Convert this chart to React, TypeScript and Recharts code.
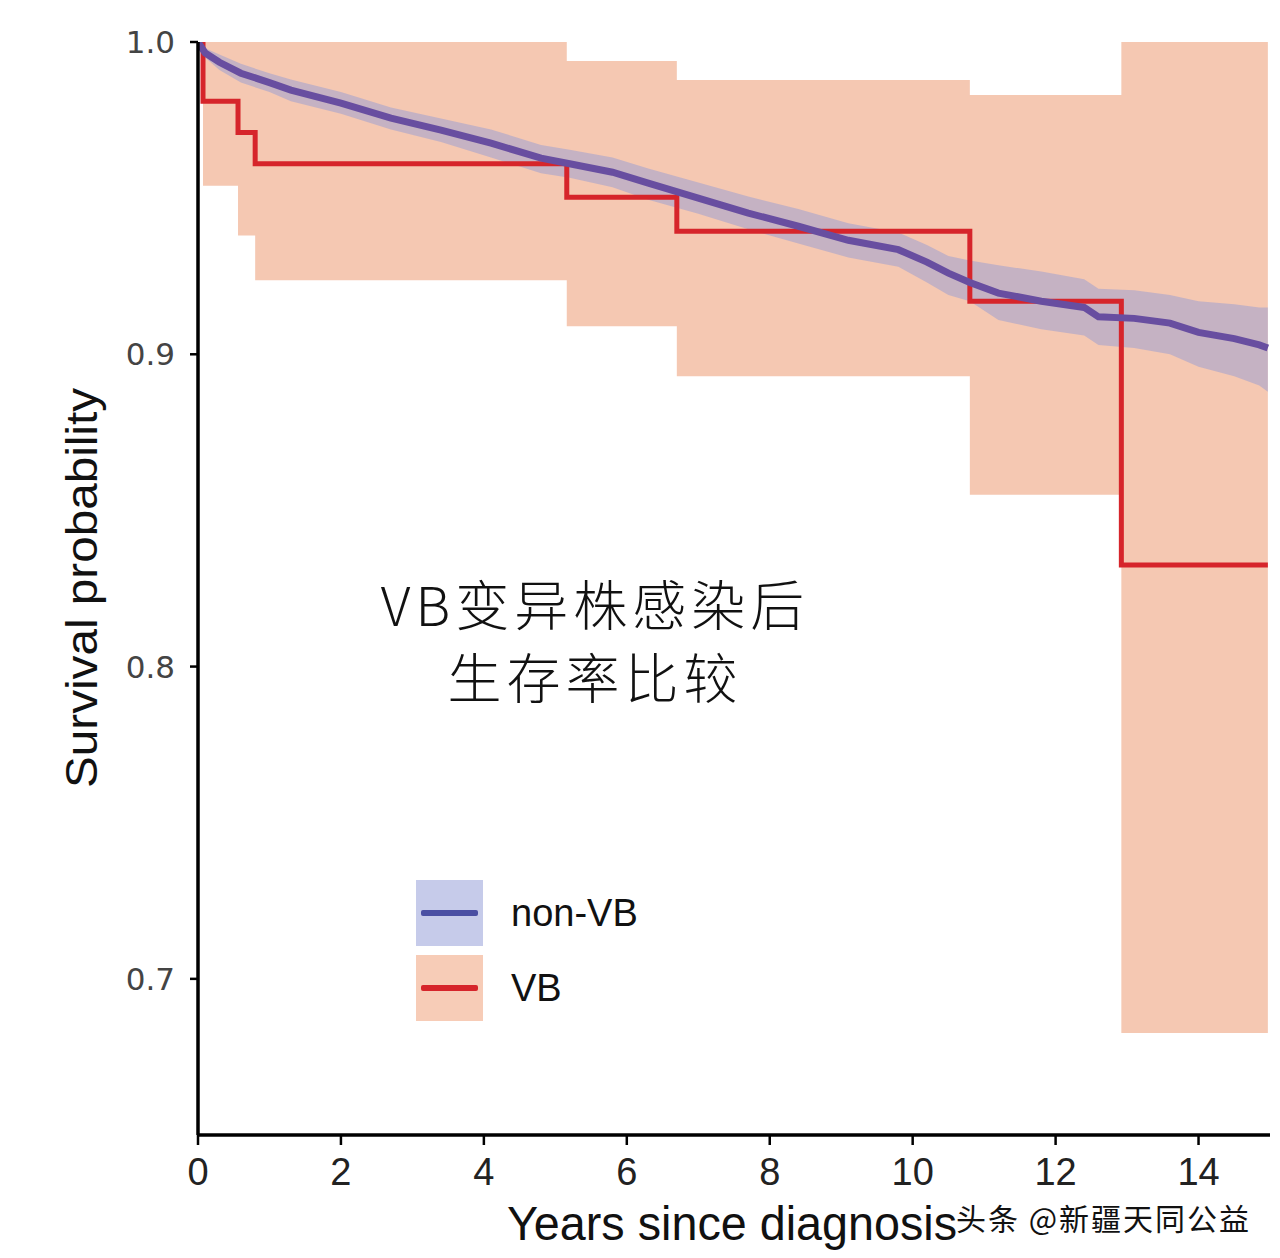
import React from 'react';
import { ComposedChart, Area, Line, XAxis, YAxis, Legend, Label } from 'recharts';

// VB group: Kaplan-Meier step curve and its confidence band
const vbTimes = [0, 0.07, 0.56, 0.8, 5.16, 6.7, 10.8, 12.92, 14.97];
const vbSurvival = [1.0, 0.981, 0.971, 0.961, 0.9503, 0.9394, 0.917, 0.8325, 0.8325];
const vbUpper = [1.0, 1.0, 1.0, 1.0, 0.9939, 0.9878, 0.983, 1.0, 1.0];
const vbLower = [1.0, 0.954, 0.938, 0.9237, 0.909, 0.893, 0.855, 0.6827, 0.6827];

// non-VB group
const nonVbTimes = [
  0, 0.1, 0.3, 0.6, 1.0, 1.3, 2.0, 2.7, 3.4, 4.1, 4.8, 5.2, 5.8, 6.3, 7.0, 7.7,
  8.4, 9.1, 9.8, 10.2, 10.5, 10.8, 11.2, 11.8, 12.4, 12.6, 13.1, 13.6, 14.0, 14.5, 14.85, 14.97,
];
const nonVbSurvival = [
  1.0, 0.9965, 0.9935, 0.99, 0.987, 0.9846, 0.9804, 0.9756, 0.9718, 0.9676, 0.9628, 0.961, 0.9583, 0.9548, 0.95, 0.9452,
  0.941, 0.9365, 0.9335, 0.9295, 0.926, 0.923, 0.9196, 0.917, 0.915, 0.912, 0.9115, 0.91, 0.907, 0.905, 0.903, 0.902,
];
const nonVbUpper = [
  1.0, 0.998, 0.996, 0.993, 0.99, 0.988, 0.984, 0.979, 0.9755, 0.972, 0.967, 0.9655, 0.963, 0.9595, 0.955, 0.9505,
  0.9465, 0.942, 0.939, 0.935, 0.9315, 0.93, 0.9285, 0.9265, 0.924, 0.921, 0.9205, 0.919, 0.917, 0.916, 0.915, 0.915,
];
const nonVbLower = [
  1.0, 0.995, 0.991, 0.987, 0.984, 0.981, 0.977, 0.972, 0.968, 0.963, 0.958, 0.9565, 0.9535, 0.9495, 0.945, 0.94,
  0.9355, 0.931, 0.928, 0.923, 0.919, 0.917, 0.911, 0.908, 0.906, 0.903, 0.902, 0.9, 0.896, 0.893, 0.89, 0.888,
];

const xTicks = [0, 2, 4, 6, 8, 10, 12, 14];
const yTicks = [0.7, 0.8, 0.9, 1.0];
const groups = ['non-VB', 'VB'];

const vbRows = vbTimes.map((t, i) => ({ t, s: vbSurvival[i], ci: [vbLower[i], vbUpper[i]] }));
const nonVbRows = nonVbTimes.map((t, i) => ({ t, s: nonVbSurvival[i], ci: [nonVbLower[i], nonVbUpper[i]] }));

const PEACH = '#f5c8b2';
const RED = '#d6252b';
const BAND = '#8c96d6';
const PURPLE = '#684ea0';

const LegendBox = () => (
  <div style={{ fontFamily: 'Liberation Sans, Arial, sans-serif' }}>
    {groups.map((g, i) => (
      <div key={g} style={{ display: 'flex', alignItems: 'center', marginBottom: 9 }}>
        <div
          style={{
            width: 67,
            height: 66,
            background: i === 0 ? '#c6cbea' : '#f7ccb7',
            position: 'relative',
          }}
        >
          <div
            style={{
              position: 'absolute',
              left: 5,
              right: 5,
              top: 30,
              height: 6,
              borderRadius: 2,
              background: i === 0 ? '#4a4fa3' : RED,
            }}
          />
        </div>
        <span style={{ marginLeft: 28, fontSize: 38, color: '#111' }}>{g}</span>
      </div>
    ))}
  </div>
);

export default function App() {
  return (
    <div style={{ position: 'absolute', left: 0, top: 0, width: 1280, height: 1258, background: '#fff' }}>
      <ComposedChart width={1280} height={1258} margin={{ top: 42, right: 10, bottom: 0, left: 0 }}>
        <XAxis
          type="number"
          dataKey="t"
          domain={[0, 15]}
          ticks={xTicks}
          height={123}
          tickSize={10}
          tickMargin={13}
          axisLine={{ stroke: '#000', strokeWidth: 3.5 }}
          tickLine={{ stroke: '#000', strokeWidth: 2.5 }}
          tick={{ fill: '#222', fontSize: 38, fontFamily: 'Liberation Sans, Arial, sans-serif' }}
          allowDataOverflow
        >
          <Label
            content={() => (
              <text
                x={732}
                y={1240}
                textAnchor="middle"
                fontSize={48}
                textLength={450}
                lengthAdjust="spacingAndGlyphs"
                fontFamily="Liberation Sans, Arial, sans-serif"
                fill="#111"
              >
                Years since diagnosis
              </text>
            )}
          />
        </XAxis>
        <YAxis
          type="number"
          domain={[0.65, 1]}
          ticks={yTicks}
          width={198}
          tickSize={8}
          tickMargin={15}
          tickFormatter={(v: number) => v.toFixed(1)}
          axisLine={{ stroke: '#000', strokeWidth: 3.5 }}
          tickLine={{ stroke: '#000', strokeWidth: 2.5 }}
          tick={{ fill: '#444', fontSize: 31, fontFamily: 'DejaVu Sans, sans-serif' }}
          allowDataOverflow
        >
          <Label
            content={() => (
              <text
                x={97}
                y={588}
                transform="rotate(-90, 97, 588)"
                textAnchor="middle"
                fontSize={44}
                textLength={400}
                lengthAdjust="spacingAndGlyphs"
                fontFamily="Liberation Sans, Arial, sans-serif"
                fill="#111"
              >
                Survival probability
              </text>
            )}
          />
        </YAxis>
        <Legend
          layout="vertical"
          align="center"
          verticalAlign="middle"
          wrapperStyle={{ left: 416, top: 880, width: 300 }}
          content={() => <LegendBox />}
        />
        <Area
          data={vbRows}
          dataKey="ci"
          type="stepAfter"
          fill={PEACH}
          fillOpacity={1}
          stroke="none"
          isAnimationActive={false}
          activeDot={false}
        />
        <Line
          data={vbRows}
          dataKey="s"
          type="stepAfter"
          stroke={RED}
          strokeWidth={5}
          dot={false}
          activeDot={false}
          isAnimationActive={false}
        />
        <Area
          data={nonVbRows}
          dataKey="ci"
          type="linear"
          fill={BAND}
          fillOpacity={0.45}
          stroke="none"
          isAnimationActive={false}
          activeDot={false}
        />
        <Line
          data={nonVbRows}
          dataKey="s"
          type="linear"
          stroke={PURPLE}
          strokeWidth={7}
          dot={false}
          activeDot={false}
          isAnimationActive={false}
        />
      </ComposedChart>

      <div
        style={{
          position: 'absolute',
          left: 0,
          width: 1190,
          top: 566,
          textAlign: 'center',
          fontFamily: '"Noto Sans CJK SC", sans-serif',
          fontWeight: 300,
          fontSize: 54,
          lineHeight: '73px',
          letterSpacing: 5,
          color: '#111',
        }}
      >
        <div>VB变异株感染后</div>
        <div>生存率比较</div>
      </div>

      <div
        style={{
          position: 'absolute',
          left: 956,
          top: 1195,
          fontFamily: '"Noto Sans CJK SC", sans-serif',
          fontSize: 30,
          letterSpacing: 2,
          color: '#111',
          whiteSpace: 'nowrap',
        }}
      >
        头条 @新疆天同公益
      </div>
    </div>
  );
}
